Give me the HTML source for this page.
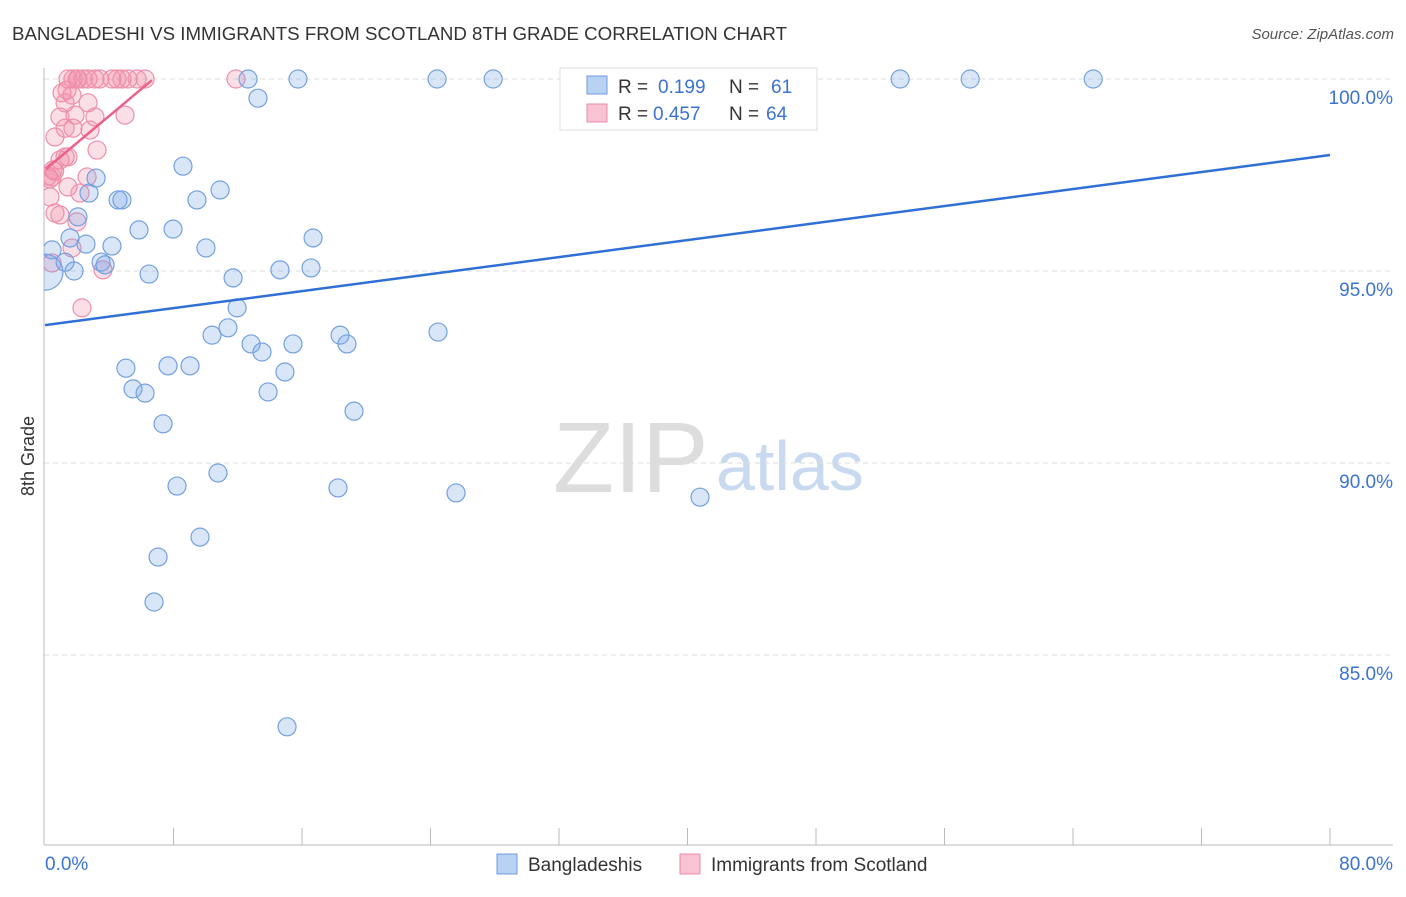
<!DOCTYPE html>
<html><head><meta charset="utf-8"><style>
body{margin:0;background:#fff;font-family:"Liberation Sans",sans-serif;}
svg text{font-family:"Liberation Sans",sans-serif;}
</style></head><body>
<svg id="chart" width="1406" height="892">
<text x="12" y="40" font-size="18" fill="#333" textLength="775" lengthAdjust="spacingAndGlyphs">BANGLADESHI VS IMMIGRANTS FROM SCOTLAND 8TH GRADE CORRELATION CHART</text>
<text x="1394" y="39" font-size="15" fill="#555" font-style="italic" text-anchor="end">Source: ZipAtlas.com</text>
<text x="553" y="492" font-size="100" fill="#ddd" font-family="Liberation Serif,serif">ZIP</text>
<text x="716" y="490" font-size="70" fill="#c9d9ef">atlas</text>
<text transform="translate(34,456) rotate(-90)" font-size="18" fill="#333" text-anchor="middle">8th Grade</text>
<g id="grid"></g>
<line x1="44" y1="68" x2="44" y2="845" stroke="#bbb"/>
<line x1="44" y1="845" x2="1393" y2="845" stroke="#bbb"/>
<g id="xticks"></g>
<defs><clipPath id="plotclip"><rect x="44" y="60" width="1350" height="785"/></clipPath></defs>
<g id="points" clip-path="url(#plotclip)"></g>
<g id="lines"></g>
<g>
<rect x="560" y="68" width="257" height="62" fill="#fff" stroke="#ddd"/>
<rect x="587" y="76" width="20" height="18" fill="#b9d1f3" stroke="#6d9be0"/>
<rect x="587" y="104" width="20" height="18" fill="#f8c3d2" stroke="#ec8aa7"/>
<text x="618" y="93" font-size="19" fill="#333">R =</text>
<text x="658" y="93" font-size="19" fill="#3b73d1">0.199</text>
<text x="729" y="93" font-size="19" fill="#333">N =</text>
<text x="771" y="93" font-size="19" fill="#3b73d1">61</text>
<text x="618" y="120" font-size="19" fill="#333">R =</text>
<text x="653" y="120" font-size="19" fill="#3b73d1">0.457</text>
<text x="729" y="120" font-size="19" fill="#333">N =</text>
<text x="766" y="120" font-size="19" fill="#3b73d1">64</text>
</g>
<g>
<rect x="497" y="854" width="20" height="20" fill="#b9d1f3" stroke="#6d9be0"/>
<text x="528" y="871" font-size="19" fill="#333">Bangladeshis</text>
<rect x="680" y="854" width="20" height="20" fill="#f8c3d2" stroke="#ec8aa7"/>
<text x="711" y="871" font-size="19" fill="#333">Immigrants from Scotland</text>
</g>
</svg>
<script>
const yTicks=[100,95,90,85];
const xTickLabels=["0.0%","80.0%"];
const blueX=[12.64,15.75,24.41,27.9,53.24,57.6,65.26,13.26,8.59,3.18,2.74,10.9,4.55,4.79,9.46,2.05,5.85,7.97,16.69,1.56,2.55,4.17,0.44,10.02,1.25,3.49,3.74,1.81,6.48,11.71,14.63,16.56,11.96,11.39,10.4,18.37,24.47,12.83,15.44,18.8,13.51,5.04,7.66,9.03,14.94,5.48,6.23,13.89,19.24,7.35,10.77,8.22,18.24,25.59,40.78,9.65,7.04,6.79,15.07,0];
const blueY=[100,100,100,100,100,100,100,99.5,97.73,97.42,97.03,97.11,96.85,96.85,96.85,96.41,96.07,96.09,95.86,95.86,95.7,95.65,95.55,95.6,95.23,95.23,95.16,95.0,94.92,94.82,95.03,95.08,94.04,93.52,93.33,93.33,93.41,93.1,93.1,93.1,92.89,92.47,92.53,92.53,92.37,91.93,91.82,91.85,91.35,91.02,89.74,89.4,89.35,89.22,89.11,88.07,87.55,86.38,83.13,94.97];
const pinkX=[1.43,1.74,2.05,2.37,2.68,3.11,3.42,4.17,4.48,4.79,5.17,5.73,6.23,11.89,1.37,1.68,1.25,2.68,0.93,1.87,3.11,4.98,0.62,1.74,2.8,1.25,3.24,0.93,0.5,0.44,1.43,2.62,2.18,0.31,0.62,0.93,1.99,1.68,0.44,3.61,2.3,1.43,1.06,0.19,1.25,0.3,0.6,2.0];
const pinkY=[100,100,100,100,100,100,100,100,100,100,100,100,100,100,99.71,99.58,99.38,99.38,99.01,99.06,99.01,99.06,98.49,98.72,98.67,98.72,98.15,97.89,97.63,97.45,97.19,97.45,97.03,96.93,96.51,96.46,96.28,95.6,95.21,95.03,94.04,97.97,99.64,97.47,97.97,97.4,97.6,100];
const blueTrend=[0,93.59,80,98.02];
const pinkTrend=[0.06,97.66,6.66,99.97];
const X=v=>45+v*(1330-45)/80, Y=v=>79+(100-v)*38.4;
const NS="http://www.w3.org/2000/svg";
const mk=(t,a,p)=>{const e=document.createElementNS(NS,t);for(const k in a)e.setAttribute(k,a[k]);p.appendChild(e);return e;};
const grid=document.getElementById('grid');
yTicks.forEach(t=>{
 const l=mk('line',{x1:44,x2:1393,y1:Y(t),y2:Y(t),stroke:'#ddd','stroke-dasharray':'5,4'},grid);
 
 
 const tx=mk('text',{x:1393,y:Y(t)+25,'font-size':19,fill:'#3b73d1','text-anchor':'end'},grid);
 tx.textContent=t.toFixed(1)+'%';
 
 
});
const xt=document.getElementById('xticks');
for(let i=1;i<=10;i++){const l=mk('line',{x1:X(i*8),x2:X(i*8),y1:828,y2:845,stroke:'#bbb'},xt);
 
 }
[[0,'start',45],[80,'end',1393]].forEach((d,i)=>{const t=mk('text',{x:d[2],y:870,'font-size':19,fill:'#3b73d1','text-anchor':d[1]},xt);t.textContent=xTickLabels[i];
 
 });
const pts=document.getElementById('points');
pinkX.forEach((x,i)=>{const c=mk('circle',{cx:X(x),cy:Y(pinkY[i]),r:9,fill:'rgba(242,140,170,0.28)',stroke:'#ee8fab','stroke-width':1.2},pts);
 
 });
blueX.forEach((x,i)=>{const c=mk('circle',{cx:X(x),cy:Y(blueY[i]),r:i==blueX.length-1?18:9,fill:'rgba(120,165,230,0.28)',stroke:'#74a0e0','stroke-width':1.2},pts);
 
 });
const ln=document.getElementById('lines');
const b=mk('line',{x1:X(blueTrend[0]),y1:Y(blueTrend[1]),x2:X(blueTrend[2]),y2:Y(blueTrend[3]),stroke:'#2f6fd6','stroke-width':2.5},ln);


const p=mk('line',{x1:X(pinkTrend[0]),y1:Y(pinkTrend[1]),x2:X(pinkTrend[2]),y2:Y(pinkTrend[3]),stroke:'#e8628a','stroke-width':2.5},ln);


</script>
</body></html>
